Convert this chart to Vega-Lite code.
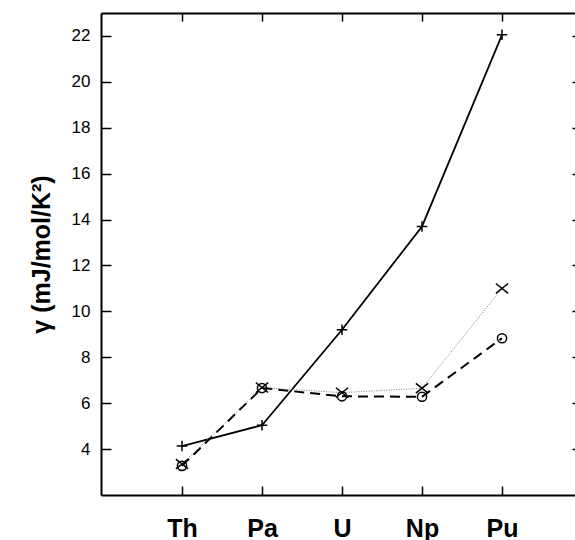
{
  "$schema": "https://vega.github.io/schema/vega-lite/v6.json",
  "width": 474,
  "height": 482,
  "autosize": {"type": "none"},
  "padding": {"left": 101, "top": 13, "right": 0, "bottom": 45},
  "background": "white",
  "config": {
    "view": {"stroke": null},
    "font": "Liberation Sans",
    "axis": {"domainColor": "black", "tickColor": "black", "labelColor": "black", "titleColor": "black", "grid": false, "domainWidth": 2, "tickWidth": 1.5}
  },
  "data": {
    "values": [
      {"element": "Th", "series": "s1", "gamma": 4.13},
      {"element": "Pa", "series": "s1", "gamma": 5.04},
      {"element": "U", "series": "s1", "gamma": 9.2},
      {"element": "Np", "series": "s1", "gamma": 13.7},
      {"element": "Pu", "series": "s1", "gamma": 22.05},
      {"element": "Th", "series": "s2", "gamma": 3.35},
      {"element": "Pa", "series": "s2", "gamma": 6.68},
      {"element": "U", "series": "s2", "gamma": 6.46},
      {"element": "Np", "series": "s2", "gamma": 6.65},
      {"element": "Pu", "series": "s2", "gamma": 11.0},
      {"element": "Th", "series": "s3", "gamma": 3.27},
      {"element": "Pa", "series": "s3", "gamma": 6.66},
      {"element": "U", "series": "s3", "gamma": 6.3},
      {"element": "Np", "series": "s3", "gamma": 6.28},
      {"element": "Pu", "series": "s3", "gamma": 8.83}
    ]
  },
  "layer": [
    {
      "transform": [{"filter": "datum.series === 's1'"}],
      "mark": {"type": "line", "color": "black", "strokeWidth": 1.8},
      "encoding": {
        "x": {"field": "element", "type": "ordinal", "sort": ["Th", "Pa", "U", "Np", "Pu"],
              "scale": {"type": "point", "domain": ["Th", "Pa", "U", "Np", "Pu"], "padding": 0.9625, "align": 0.526},
              "axis": {"orient": "bottom", "title": null, "labelAngle": 0, "labelFontSize": 25, "labelFontWeight": "bold", "tickSize": -9, "labelPadding": 30, "domainWidth": 2}},
        "y": {"field": "gamma", "type": "quantitative",
              "scale": {"domain": [2, 23], "nice": false, "zero": false},
              "axis": {"orient": "left", "title": "γ (mJ/mol/K²)", "titleFontSize": 25, "titleFontWeight": "bold", "titlePadding": 17,
                       "values": [4, 6, 8, 10, 12, 14, 16, 18, 20, 22], "labelFontSize": 17, "tickSize": -10, "labelPadding": 21}}
      }
    },
    {
      "transform": [{"filter": "datum.series === 's3'"}],
      "mark": {"type": "line", "color": "black", "strokeWidth": 2, "strokeDash": [10, 6]},
      "encoding": {
        "x": {"field": "element", "type": "ordinal", "sort": ["Th", "Pa", "U", "Np", "Pu"], "axis": null},
        "y": {"field": "gamma", "type": "quantitative", "axis": null}
      }
    },
    {
      "transform": [{"filter": "datum.series === 's2'"}],
      "mark": {"type": "line", "color": "#777777", "strokeWidth": 1, "strokeDash": [1, 1.5]},
      "encoding": {
        "x": {"field": "element", "type": "ordinal", "sort": ["Th", "Pa", "U", "Np", "Pu"], "axis": null},
        "y": {"field": "gamma", "type": "quantitative", "axis": null}
      }
    },
    {
      "transform": [{"filter": "datum.series === 's1'"}],
      "mark": {"type": "point", "shape": "M-1,0L1,0M0,-1L0,1", "size": 110, "filled": false, "color": "black", "strokeWidth": 1.5, "opacity": 1},
      "encoding": {
        "x": {"field": "element", "type": "ordinal", "sort": ["Th", "Pa", "U", "Np", "Pu"], "axis": null},
        "y": {"field": "gamma", "type": "quantitative", "axis": null}
      }
    },
    {
      "transform": [{"filter": "datum.series === 's2'"}],
      "mark": {"type": "point", "shape": "M-1,-0.8L1,0.8M-1,0.8L1,-0.8", "size": 150, "filled": false, "color": "black", "strokeWidth": 1.5, "opacity": 1},
      "encoding": {
        "x": {"field": "element", "type": "ordinal", "sort": ["Th", "Pa", "U", "Np", "Pu"], "axis": null},
        "y": {"field": "gamma", "type": "quantitative", "axis": null}
      }
    },
    {
      "transform": [{"filter": "datum.series === 's3'"}],
      "mark": {"type": "point", "shape": "circle", "size": 85, "filled": false, "color": "black", "strokeWidth": 1.5, "opacity": 1},
      "encoding": {
        "x": {"field": "element", "type": "ordinal", "sort": ["Th", "Pa", "U", "Np", "Pu"],
              "axis": {"orient": "top", "title": null, "labels": false, "tickSize": -8, "domainWidth": 2}},
        "y": {"field": "gamma", "type": "quantitative",
              "axis": {"orient": "right", "title": null, "labels": false, "domain": false, "tickSize": -3, "values": [4, 6, 8, 10, 12, 14, 16, 18, 20, 22]}}
      }
    }
  ],
  "resolve": {"axis": {"x": "independent", "y": "independent"}}
}
